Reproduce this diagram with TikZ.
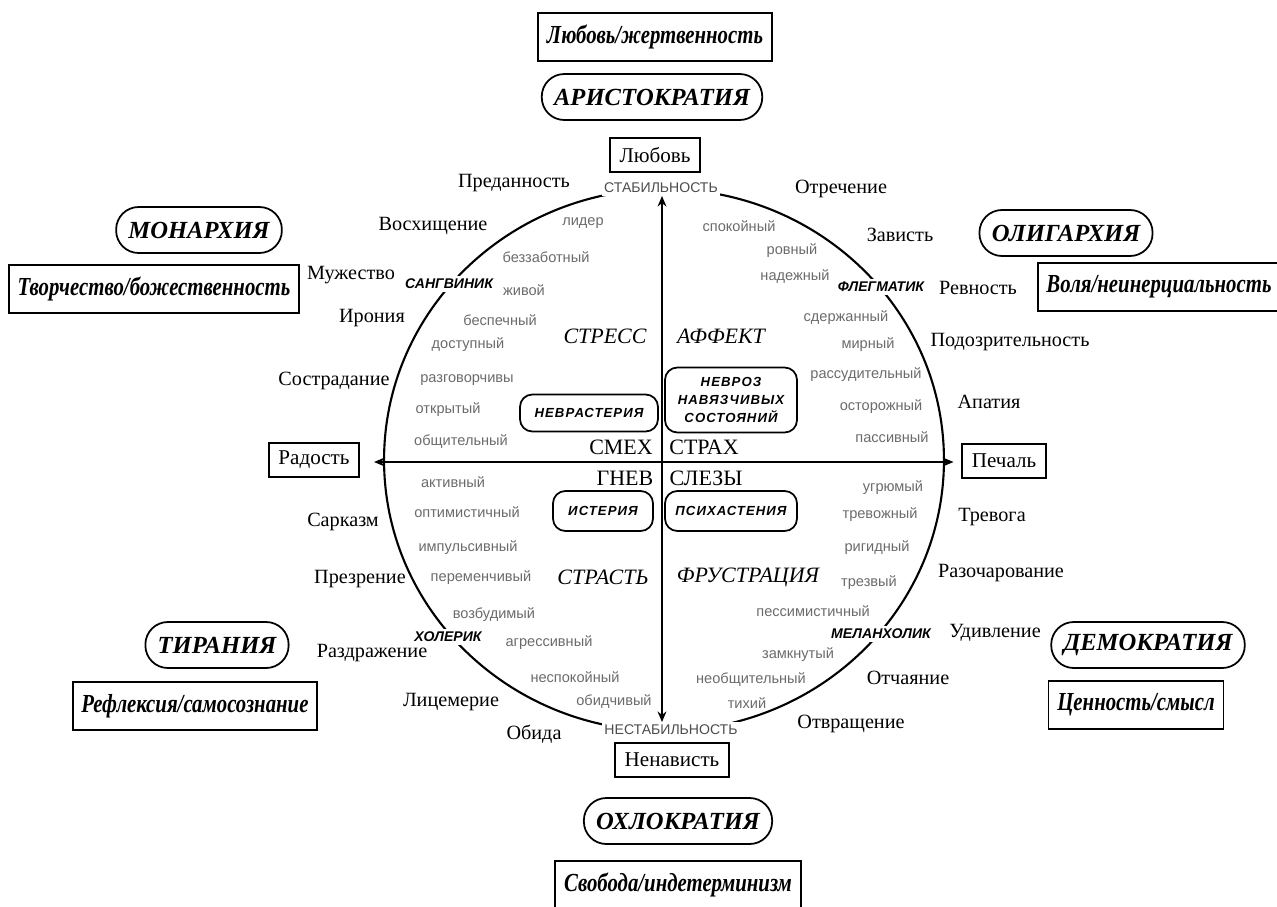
\documentclass[tikz,border=0pt]{standalone}
\usepackage{fontspec}
\setmainfont{Liberation Serif}
\setsansfont{Liberation Sans}
\newfontfamily\narrowserif[FakeStretch=0.8]{Liberation Serif}
\newfontfamily\widesans[LetterSpace=8]{Liberation Sans}
\usetikzlibrary{arrows.meta}
\colorlet{cTrait}{black!58}
\colorlet{cPole}{black!70}

\begin{document}
\begin{tikzpicture}[x=0.02cm,y=-0.02cm,
  emo/.style={font=\fontsize{11.5}{13}\selectfont},
  trait/.style={text=cTrait,font=\sffamily\fontsize{8.3}{9}\selectfont},
  temper/.style={fill=white,inner sep=1.5pt,font=\sffamily\bfseries\itshape\fontsize{8}{9}\selectfont},
  pole/.style={fill=white,inner sep=1.5pt,text=cPole,font=\sffamily\fontsize{8}{9}\selectfont},
  zone/.style={font=\itshape\fontsize{12.5}{14}\selectfont},
  react/.style={font=\fontsize{12.5}{14}\selectfont},
  dis/.style={draw,rounded corners=7pt,line width=1pt,align=center,inner sep=3pt,
    font=\widesans\bfseries\itshape\fontsize{7.5}{10}\selectfont},
  feel/.style={draw,line width=0.9pt,minimum height=0.68cm,inner xsep=5.5pt,font=\fontsize{12}{14}\selectfont},
  gov/.style={draw,line width=1pt,rounded corners=0.45cm,minimum height=0.92cm,inner xsep=7pt,
    font=\bfseries\itshape\fontsize{14}{16}\selectfont},
  val/.style={draw,line width=1pt,minimum height=0.96cm,inner xsep=5pt,
    font=\narrowserif\bfseries\itshape\fontsize{14.8}{18}\selectfont},
  axis/.style={line width=1pt,>={Stealth[length=6pt,width=5pt]},<->}
]
\useasboundingbox (0,0) rectangle (1277,906);

\draw[line width=1.2pt] (664,460) ellipse [x radius=5.6cm, y radius=5.42cm];
\coordinate (o) at (662,462);

\node[pole] (stab) at (661,188) {СТАБИЛЬНОСТЬ};
\node[pole] (unstab) at (671,730) {НЕСТАБИЛЬНОСТЬ};
\node[temper] (sang) at (449,284) {САНГВИНИК};
\node[temper] (phleg) at (881,287) {ФЛЕГМАТИК};
\node[temper] (chol) at (448,637) {ХОЛЕРИК};
\node[temper] (melan) at (881,634) {МЕЛАНХОЛИК};

\node[feel] (love) at (655,155) {Любовь};
\node[feel] (joy) at (314,460) {Радость};
\node[feel] (sad) at (1004,461) {Печаль};
\node[feel] (hate) at (672,760) {Ненависть};

\draw[axis] (stab.south -| o) -- (unstab.north -| o);
\draw[axis,shorten <=8pt,shorten >=4.5pt] (joy.east |- o) -- (sad.west |- o);

\node[val] (sacr) at (655,37) {Любовь/жертвенность};
\node[gov] (arist) at (652,97) {АРИСТОКРАТИЯ};
\node[gov] (monar) at (199,230) {МОНАРХИЯ};
\node[val] (creat) at (154,289) {Творчество/божественность};
\node[gov] (olig) at (1066,233) {ОЛИГАРХИЯ};
\node[val] (will) at (1159,287) {Воля/неинерциальность};
\node[gov] (tiran) at (217,645) {ТИРАНИЯ};
\node[val] (refl) at (195,706) {Рефлексия/самосознание};
\node[gov] (demo) at (1148,645) {ДЕМОКРАТИЯ};
\node[val] (sense) at (1136,705) {Ценность/смысл};
\node[gov] (okhlo) at (678,821) {ОХЛОКРАТИЯ};
\node[val] (free) at (678,885) {Свобода/индетерминизм};

\node[emo] (predan) at (514,183) {Преданность};
\node[emo] (voskh) at (433,226) {Восхищение};
\node[emo] (muzh) at (351,275) {Мужество};
\node[emo] (iron) at (372,318) {Ирония};
\node[emo] (sostr) at (334,381) {Сострадание};
\node[emo] (sark) at (343,522) {Сарказм};
\node[emo] (prezr) at (360,579) {Презрение};
\node[emo] (razdr) at (372,653) {Раздражение};
\node[emo] (litsem) at (451,702) {Лицемерие};
\node[emo] (obida) at (534,734) {Обида};
\node[emo] (otrech) at (841,189) {Отречение};
\node[emo] (zavist) at (900,235) {Зависть};
\node[emo] (revn) at (978,288) {Ревность};
\node[emo] (podozr) at (1010,342) {Подозрительность};
\node[emo] (apat) at (989,402) {Апатия};
\node[emo] (trev) at (992,517) {Тревога};
\node[emo] (razoch) at (1001,573) {Разочарование};
\node[emo] (udivl) at (995,633) {Удивление};
\node[emo] (otch) at (908,678) {Отчаяние};
\node[emo] (otvr) at (851,724) {Отвращение};

\node[trait] (lider) at (583,223) {лидер};
\node[trait] (bezzab) at (546,257) {беззаботный};
\node[trait] (zhivoi) at (524,290) {живой};
\node[trait] (bespech) at (500,320) {беспечный};
\node[trait] (dostup) at (468,345) {доступный};
\node[trait] (razgov) at (467,380) {разговорчивы};
\node[trait] (otkr) at (448,410) {открытый};
\node[trait] (obshch) at (461,442) {общительный};
\node[trait] (aktiv) at (453,482) {активный};
\node[trait] (optim) at (467,512) {оптимистичный};
\node[trait] (impuls) at (468,548) {импульсивный};
\node[trait] (peremen) at (481,578) {переменчивый};
\node[trait] (vozb) at (494,615) {возбудимый};
\node[trait] (agress) at (549,643) {агрессивный};
\node[trait] (nespok) at (575,677) {неспокойный};
\node[trait] (obidch) at (614,702) {обидчивый};
\node[trait] (spok) at (739,226) {спокойный};
\node[trait] (rovn) at (792,251) {ровный};
\node[trait] (nadezh) at (795,277) {надежный};
\node[trait] (sderzh) at (846,318) {сдержанный};
\node[trait] (mirn) at (868,345) {мирный};
\node[trait] (rassud) at (866,375) {рассудительный};
\node[trait] (ostor) at (881,407) {осторожный};
\node[trait] (passiv) at (892,437) {пассивный};
\node[trait] (ugr) at (893,488) {угрюмый};
\node[trait] (trevozh) at (880,515) {тревожный};
\node[trait] (rigid) at (877,548) {ригидный};
\node[trait] (trezv) at (869,583) {трезвый};
\node[trait] (pessim) at (813,611) {пессимистичный};
\node[trait] (zamkn) at (798,655) {замкнутый};
\node[trait] (neobshch) at (751,680) {необщительный};
\node[trait] (tikhii) at (747,703) {тихий};

\node[zone] (stress) at (605,336) {СТРЕСС};
\node[zone] (affect) at (721,336) {АФФЕКТ};
\node[zone] (passion) at (603,577) {СТРАСТЬ};
\node[zone] (frustr) at (748,577) {ФРУСТРАЦИЯ};

\node[react] (laugh) at (621,447) {СМЕХ};
\node[react] (fear) at (704,447) {СТРАХ};
\node[react] (anger) at (625,478) {ГНЕВ};
\node[react] (tears) at (706,478) {СЛЕЗЫ};

\node[dis,minimum width=2.76cm,minimum height=0.74cm] (nevr) at (589,413) {НЕВРАСТЕРИЯ};
\node[dis,minimum width=2.64cm,minimum height=1.3cm] (nevroz) at (731,400) {НЕВРОЗ\\НАВЯЗЧИВЫХ\\СОСТОЯНИЙ};
\node[dis,minimum width=2cm,minimum height=0.8cm] (ister) at (603,511) {ИСТЕРИЯ};
\node[dis,minimum width=2.64cm,minimum height=0.8cm] (psikh) at (731,511) {ПСИХАСТЕНИЯ};
\end{tikzpicture}
\end{document}
